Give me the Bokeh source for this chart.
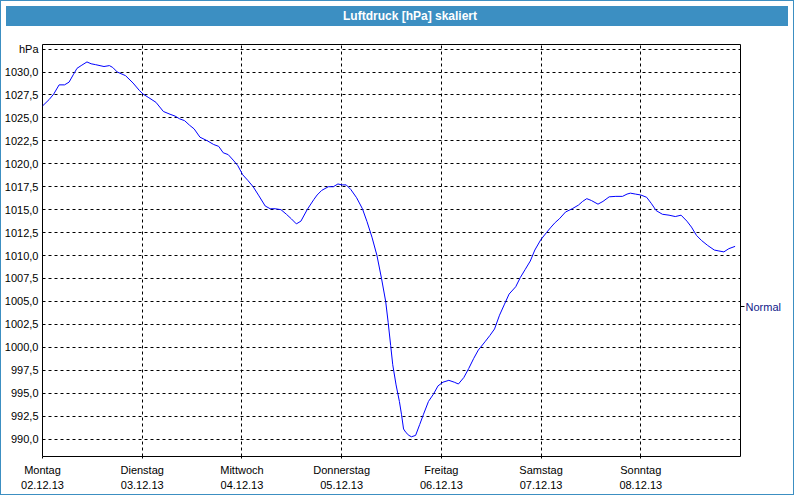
from bokeh.plotting import figure
from bokeh.models import FixedTicker, LinearAxis, Range1d, Div, ColumnDataSource
from bokeh.layouts import column
from bokeh.embed import file_html
from bokeh.resources import INLINE

title_text = "Luftdruck [hPa] skaliert"

# hours since Monday 02.12.13 00:00
hours = [0.0, 1.6, 2.7, 4.0, 5.3, 6.4, 7.4, 8.3, 9.3, 10.7, 11.7, 12.8, 14.8, 16.1, 16.9,
         18.0, 20.0, 21.8, 23.3, 24.2, 25.6, 27.3, 29.1, 30.7, 31.9, 33.0, 34.2, 35.4,
         36.5, 37.9, 39.7, 41.2, 42.4, 43.5, 44.7, 45.9, 47.0, 48.2, 49.4, 50.7, 52.1,
         53.6, 54.8, 56.0, 57.4, 58.7, 59.9, 61.1, 62.2, 63.7, 65.3, 66.1, 67.2, 68.8,
         70.0, 71.1, 72.1, 73.1, 74.2, 75.6, 77.0, 78.1, 79.3, 80.5, 81.6, 82.6, 83.2,
         83.8, 84.3, 85.1, 85.9, 86.4, 86.9, 87.5, 88.2, 88.8, 89.8, 90.8, 91.7, 92.9,
         94.1, 95.2, 96.4, 97.8, 99.1, 100.1, 101.4, 102.6, 103.8, 104.9, 106.5, 107.7,
         108.8, 110.0, 111.2, 112.3, 113.9, 115.0, 116.2, 117.4, 118.5, 119.9, 121.3,
         122.4, 123.4, 124.4, 125.9, 127.5, 129.0, 130.0, 131.0, 132.1, 133.7, 134.9,
         136.4, 138.0, 139.6, 140.7, 141.5, 142.7, 144.0, 145.4, 146.5, 147.7, 149.2,
         150.8, 152.3, 153.7, 155.1, 156.2, 157.4, 158.6, 160.1, 161.7, 162.8, 164.0,
         165.2, 166.7]

pressure = [1026.3, 1027.0, 1027.6, 1028.6, 1028.6, 1028.9, 1029.7, 1030.4, 1030.7, 1031.1,
            1030.9, 1030.8, 1030.6, 1030.7, 1030.5, 1030.0, 1029.6, 1028.8, 1028.0, 1027.6,
            1027.2, 1026.7, 1025.7, 1025.4, 1025.2, 1024.9, 1024.7, 1024.2, 1023.8, 1022.9,
            1022.5, 1022.1, 1021.9, 1021.2, 1021.0, 1020.4, 1019.8, 1018.8, 1018.2, 1017.5,
            1016.5, 1015.4, 1015.1, 1015.1, 1015.0, 1014.5, 1014.0, 1013.45, 1013.75, 1015.0,
            1016.1, 1016.6, 1017.1, 1017.5, 1017.5, 1017.8, 1017.7, 1017.7, 1017.2, 1016.3,
            1015.1, 1013.7, 1012.0, 1010.0, 1007.5, 1005.0, 1002.7, 1000.2, 998.1, 995.9,
            994.1, 992.7, 991.1, 990.7, 990.4, 990.25, 990.4, 991.6, 992.7, 994.1,
            994.9, 995.8, 996.2, 996.4, 996.2, 996.0, 996.7, 997.7, 998.8, 999.7,
            1000.6, 1001.3, 1002.0, 1003.5, 1004.7, 1005.8, 1006.6, 1007.6, 1008.5, 1009.4,
            1010.6, 1011.7, 1012.5, 1013.1, 1013.6, 1014.0, 1014.75, 1015.1, 1015.5, 1015.9,
            1016.2, 1016.0, 1015.6, 1015.9, 1016.4, 1016.45, 1016.45, 1016.7, 1016.8, 1016.7,
            1016.6, 1016.35, 1015.7, 1014.9, 1014.5, 1014.4, 1014.25, 1014.4, 1013.75, 1013.1,
            1012.2, 1011.65, 1011.1, 1010.6, 1010.5, 1010.4, 1010.75, 1011.0]

y_ticks = [990.0, 992.5, 995.0, 997.5, 1000.0, 1002.5, 1005.0, 1007.5, 1010.0, 1012.5,
           1015.0, 1017.5, 1020.0, 1022.5, 1025.0, 1027.5, 1030.0, 1032.5]
y_labels = ["990,0", "992,5", "995,0", "997,5", "1000,0", "1002,5", "1005,0", "1007,5",
            "1010,0", "1012,5", "1015,0", "1017,5", "1020,0", "1022,5", "1025,0", "1027,5",
            "1030,0", "hPa"]

x_ticks = [0, 24, 48, 72, 96, 120, 144]
day_names = ["Montag", "Dienstag", "Mittwoch", "Donnerstag", "Freitag", "Samstag", "Sonntag"]
day_dates = ["02.12.13", "03.12.13", "04.12.13", "05.12.13", "06.12.13", "07.12.13", "08.12.13"]

series_name = "Normal"
legend_level = 1004.4

X_START, X_END = 0, 168
FONT = "Liberation Sans"
LINE_BLUE = "#0000ff"
BAR_BLUE = "#3c8fc2"

src = ColumnDataSource(data=dict(h=hours, p=pressure))

p = figure(width=782, height=463,
           x_range=Range1d(X_START, X_END), y_range=Range1d(988.1, 1033.0),
           output_backend="svg", toolbar_location=None,
           min_border_left=36, min_border_right=10, min_border_top=13, min_border_bottom=34,
           background_fill_color="white", border_fill_color="white")

p.line("h", "p", source=src, line_color=LINE_BLUE, line_width=1)

p.outline_line_color = "black"
p.outline_line_width = 1
p.outline_line_alpha = 1

# y axis
ya = p.yaxis[0]
ya.ticker = FixedTicker(ticks=y_ticks)
ya.major_label_overrides = {t: l for t, l in zip(y_ticks, y_labels)}
ya.major_tick_out = 0
ya.major_tick_in = 0
ya.minor_tick_line_color = None
ya.axis_line_color = None
ya.major_label_standoff = 4
ya.major_label_text_font = FONT
ya.major_label_text_font_size = "11px"
ya.major_label_text_color = "black"

# x axis
xa = p.xaxis[0]
xa.ticker = FixedTicker(ticks=x_ticks)
xa.major_label_overrides = {t: f"{n}\n{d}" for t, n, d in zip(x_ticks, day_names, day_dates)}
xa.major_tick_out = 2
xa.major_tick_in = 0
xa.major_tick_line_color = "black"
xa.minor_tick_line_color = None
xa.axis_line_color = None
xa.major_label_standoff = 5
xa.major_label_text_font = FONT
xa.major_label_text_font_size = "11px"
xa.major_label_text_color = "black"
xa.major_label_text_line_height = 1.3

# grid
for g in (p.xgrid[0], p.ygrid[0]):
    g.grid_line_color = "black"
    g.grid_line_dash = "3 3"
    g.grid_line_width = 1
    g.grid_line_alpha = 1

# right-side series label
ra = LinearAxis(ticker=FixedTicker(ticks=[legend_level]),
                major_label_overrides={legend_level: series_name})
ra.major_tick_out = 4
ra.major_tick_in = 0
ra.major_tick_line_color = "black"
ra.minor_tick_line_color = None
ra.axis_line_color = None
ra.major_label_standoff = 1
ra.axis_label_standoff = 0
ra.major_label_text_font = FONT
ra.major_label_text_font_size = "11px"
ra.major_label_text_color = "#10208a"
p.add_layout(ra, "right")

title = Div(text=title_text, width=782, height=20,
            styles={"background-color": BAR_BLUE, "color": "white",
                    "font-family": FONT, "font-weight": "bold", "font-size": "12px",
                    "text-align": "center", "line-height": "20px",
                    "padding-left": "26px", "box-sizing": "border-box"})

layout = column(title, p, spacing=0,
                styles={"border": f"1px solid {BAR_BLUE}"})

open("out.html", "w").write(file_html(layout, INLINE))
